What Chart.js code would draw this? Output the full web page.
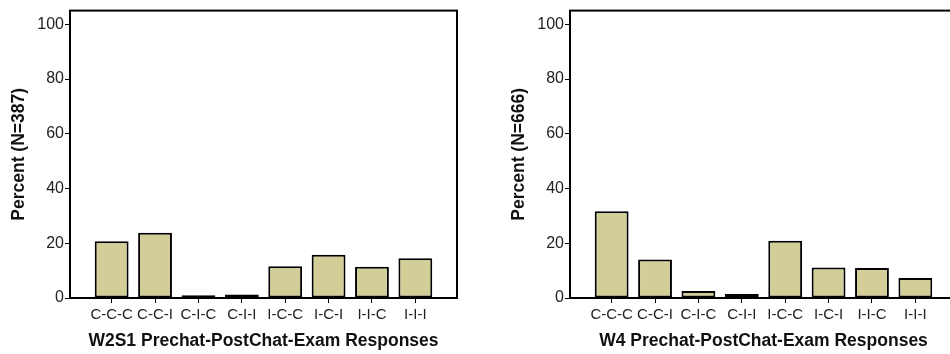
<!DOCTYPE html>
<html>
<head>
<meta charset="utf-8">
<script src="https://cdn.jsdelivr.net/npm/chart.js@4"></script>
<style>
  html, body { margin: 0; padding: 0; background: #fff; overflow: hidden; width: 950px; height: 354px; }
  .box { position: absolute; top: 0; width: 475px; height: 354px; }
  #leftBox { left: 0; }
  #rightBox { left: 500px; }
</style>
</head>
<body>
<div class="box" id="leftBox"><canvas id="chartW2S1" width="475" height="354"></canvas></div>
<div class="box" id="rightBox"><canvas id="chartW4" width="475" height="354"></canvas></div>
<script>
const categories = ['C-C-C', 'C-C-I', 'C-I-C', 'C-I-I', 'I-C-C', 'I-C-I', 'I-I-C', 'I-I-I'];
const w2s1Percent = [20.7, 23.8, 1.0, 1.3, 11.6, 15.8, 11.4, 14.5];
const w4Percent = [31.7, 14.1, 2.6, 1.5, 20.9, 11.1, 11.0, 7.3];
const yTicks = [0, 20, 40, 60, 80, 100];

// draws the box round the plot area
const framePlugin = {
    id: 'frame',
    afterDraw(chart) {
        const { ctx, chartArea } = chart;
        ctx.save();
        ctx.strokeStyle = '#000';
        ctx.lineWidth = 2;
        ctx.strokeRect(chartArea.left, chartArea.top, chartArea.right - chartArea.left, chartArea.bottom - chartArea.top);
        ctx.restore();
    }
};

function makeChart(canvasId, values, yTitle, xTitle) {
    const ctx = document.getElementById(canvasId).getContext('2d');
    return new Chart(ctx, {
        type: 'bar',
        data: {
            datasets: [{
                data: values.map((v, i) => ({ x: i, y: v })),
                backgroundColor: '#D3CE98',
                borderColor: '#000',
                borderWidth: 2,
                borderSkipped: false,
                categoryPercentage: 1,
                barPercentage: 0.78
            }]
        },
        options: {
            responsive: false,
            animation: false,
            layout: { padding: { top: 10, right: 18, bottom: 0, left: 0 } },
            plugins: { legend: { display: false }, tooltip: { enabled: false } },
            scales: {
                x: {
                    type: 'linear',
                    min: -0.96,
                    max: 7.96,
                    offset: false,
                    afterFit(scale) { scale.height = 56; },
                    afterBuildTicks(scale) { scale.ticks = categories.map((c, i) => ({ value: i })); },
                    grid: { drawOnChartArea: false, drawTicks: true, tickLength: 5, color: '#000', offset: false },
                    border: { display: true, color: '#000', width: 2 },
                    ticks: {
                        autoSkip: false,
                        maxRotation: 0,
                        padding: 3,
                        color: '#222',
                        font: { family: 'Liberation Sans', size: 15 },
                        callback: (v) => categories[v]
                    },
                    title: {
                        display: true,
                        text: xTitle,
                        color: '#111',
                        font: { family: 'Liberation Sans', size: 17.5, weight: 'bold' },
                        padding: { top: 0, bottom: 2.5 }
                    }
                },
                y: {
                    min: 0,
                    max: 105,
                    afterFit(scale) { scale.width = 70; },
                    afterBuildTicks(scale) { scale.ticks = yTicks.map(v => ({ value: v })); },
                    grid: { drawOnChartArea: false, drawTicks: true, tickLength: 5, color: '#000' },
                    border: { display: true, color: '#000', width: 2 },
                    ticks: {
                        padding: 1,
                        color: '#222',
                        font: { family: 'Liberation Sans', size: 16 }
                    },
                    title: {
                        display: true,
                        text: yTitle,
                        color: '#111',
                        font: { family: 'Liberation Sans', size: 17.5, weight: 'bold' },
                        padding: { top: 8.5, bottom: 0 }
                    }
                }
            }
        },
        plugins: [framePlugin]
    });
}

makeChart('chartW2S1', w2s1Percent, 'Percent (N=387)', 'W2S1 Prechat-PostChat-Exam Responses');
makeChart('chartW4', w4Percent, 'Percent (N=666)', 'W4 Prechat-PostChat-Exam Responses');
</script>
</body>
</html>
